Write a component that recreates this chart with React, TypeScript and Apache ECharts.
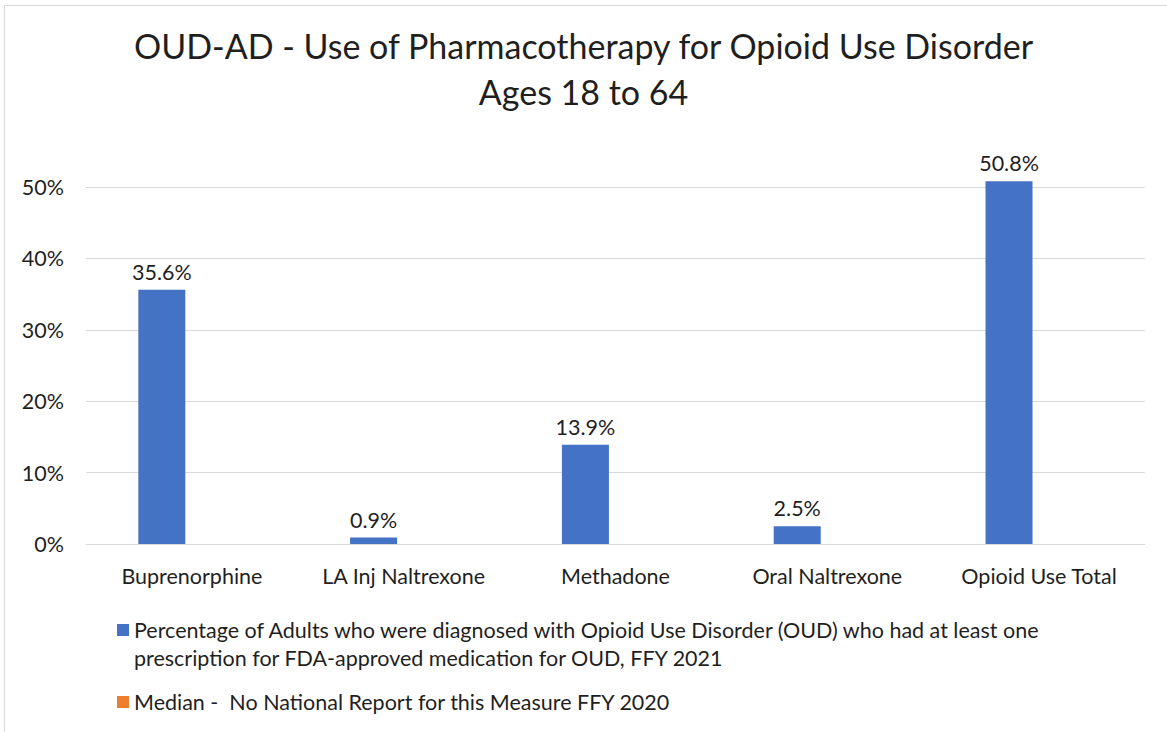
import React, { useEffect, useRef } from "react";
import * as echarts from "echarts";

const categories = ["Buprenorphine", "LA Inj Naltrexone", "Methadone", "Oral Naltrexone", "Opioid Use Total"];
const rateValues = [0.356, 0.009, 0.139, 0.025, 0.508];
const medianValues: (number | null)[] = [null, null, null, null, null];
const seriesNames = [
  "Percentage of Adults who were diagnosed with Opioid Use Disorder (OUD) who had at least one\nprescription for FDA-approved medication for OUD, FFY 2021",
  "Median -  No National Report for this Measure FFY 2020",
];
const titleLines = ["OUD-AD - Use of Pharmacotherapy for Opioid Use Disorder", "Ages 18 to 64"];

const FONT = "Lato, 'Noto Sans', sans-serif";
const TEXT = "#1f1f1f";
const FS = 21.5;

export default function App() {
  const ref = useRef<HTMLDivElement>(null);
  useEffect(() => {
    if (!ref.current) return;
    const chart = echarts.init(ref.current, undefined, { renderer: "svg" });
    chart.setOption({
      animation: false,
      textStyle: { fontFamily: FONT },
      title: {
        text: titleLines.join("\n"),
        left: "center",
        top: 17,
        textStyle: { fontFamily: FONT, fontSize: 34, fontWeight: "normal", color: TEXT, lineHeight: 46 },
      },
      graphic: [
        {
          type: "rect",
          shape: { x: 4.5, y: 5.5, width: 1180, height: 760 },
          style: { fill: "none", stroke: "#d9d9d9", lineWidth: 1 },
          silent: true,
        },
      ],
      legend: [
        {
          data: [seriesNames[0]],
          orient: "vertical",
          left: 112,
          top: 611,
          itemWidth: 12,
          itemHeight: 40,
          icon: "path://M0,0h12v12h-12z M0,39.99h0.01v0.01h-0.01z",
          textStyle: { fontFamily: FONT, fontSize: FS, color: TEXT, lineHeight: 28 },
          selectedMode: false,
        },
        {
          data: [seriesNames[1]],
          orient: "vertical",
          left: 112,
          top: 683,
          itemWidth: 12,
          itemHeight: 12,
          icon: "rect",
          textStyle: { fontFamily: FONT, fontSize: FS, color: TEXT, lineHeight: 28 },
          selectedMode: false,
        },
      ],
      grid: { left: 86, right: 22, top: 187, bottom: 188, containLabel: false },
      xAxis: {
        type: "category",
        data: categories,
        axisTick: { show: false },
        axisLine: { lineStyle: { color: "#d9d9d9", width: 1 } },
        axisLabel: { interval: 0, hideOverlap: false, fontFamily: FONT, fontSize: FS, color: TEXT, margin: 21 },
      },
      yAxis: {
        type: "value",
        min: 0,
        max: 0.5,
        interval: 0.1,
        axisLine: { show: false },
        axisTick: { show: false },
        splitLine: { lineStyle: { color: "#d9d9d9", width: 1 } },
        axisLabel: {
          fontFamily: FONT,
          fontSize: FS,
          color: TEXT,
          margin: 22,
          formatter: (v: number) => Math.round(v * 100) + "%",
        },
      },
      series: [
        {
          name: seriesNames[0],
          type: "bar",
          data: rateValues,
          barWidth: 47,
          barGap: "28%",
          clip: false,
          itemStyle: { color: "#4472C4" },
          label: {
            show: true,
            position: "top",
            distance: 7,
            fontFamily: FONT,
            fontSize: FS,
            color: TEXT,
            formatter: (p: any) => (p.value * 100).toFixed(1) + "%",
          },
        },
        {
          name: seriesNames[1],
          type: "bar",
          data: medianValues,
          barWidth: 47,
          itemStyle: { color: "#ED7D31" },
        },
      ],
    });
    return () => chart.dispose();
  }, []);
  return <div ref={ref} style={{ position: "absolute", left: 0, top: 0, width: 1167, height: 732, background: "#fff" }} />;
}
